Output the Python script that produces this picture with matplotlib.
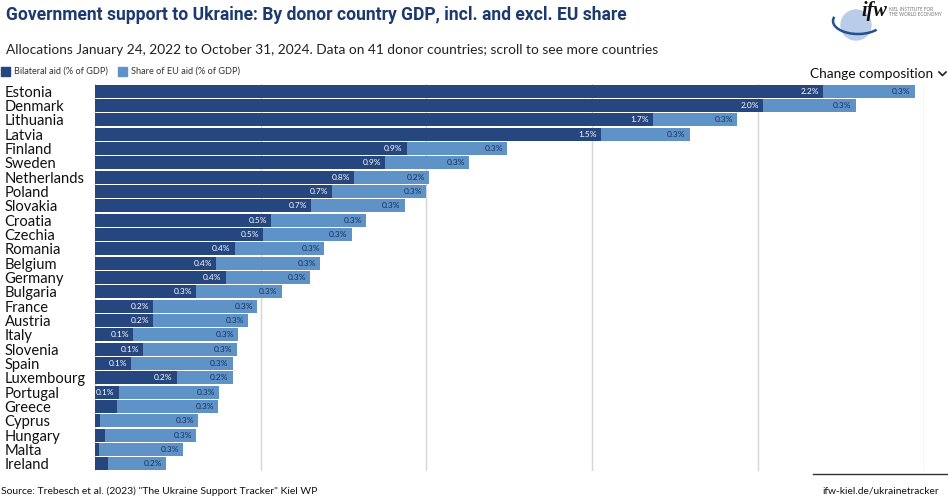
import matplotlib
matplotlib.use("Agg")
import matplotlib.pyplot as plt
from matplotlib.patches import Rectangle, Ellipse, Arc

# colours
DARK = '#26467f'
LIGHT = '#5f93c8'
TITLE = '#1c3a6e'

countries = ['Estonia', 'Denmark', 'Lithuania', 'Latvia', 'Finland', 'Sweden', 'Netherlands',
             'Poland', 'Slovakia', 'Croatia', 'Czechia', 'Romania', 'Belgium', 'Germany',
             'Bulgaria', 'France', 'Austria', 'Italy', 'Slovenia', 'Spain', 'Luxembourg',
             'Portugal', 'Greece', 'Cyprus', 'Hungary', 'Malta', 'Ireland']
bilateral = [2.197, 2.016, 1.684, 1.527, 0.941, 0.875, 0.782, 0.715, 0.652, 0.531, 0.507, 0.422,
             0.365, 0.395, 0.305, 0.175, 0.175, 0.115, 0.145, 0.109, 0.247, 0.072, 0.066,
             0.015, 0.03, 0.012, 0.039]
eu_share = [0.277, 0.280, 0.253, 0.268, 0.302, 0.254, 0.226, 0.284, 0.283, 0.287, 0.268, 0.269,
            0.314, 0.254, 0.259, 0.314, 0.287, 0.317, 0.283, 0.307, 0.169, 0.302, 0.305,
            0.296, 0.275, 0.254, 0.175]
bilateral_labels = ['2.2%', '2.0%', '1.7%', '1.5%', '0.9%', '0.9%', '0.8%', '0.7%', '0.7%', '0.5%',
                    '0.5%', '0.4%', '0.4%', '0.4%', '0.3%', '0.2%', '0.2%', '0.1%', '0.1%', '0.1%',
                    '0.2%', '0.1%', '', '', '', '', '']
eu_labels = ['0.3%'] * 6 + ['0.2%'] + ['0.3%'] * 13 + ['0.2%'] + ['0.3%'] * 5 + ['0.2%']
grid_ticks = [0, 0.5, 1.0, 1.5, 2.0, 2.5]

W, H = 948, 500
plt.rcParams['font.family'] = ['Lato', 'DejaVu Sans']
fig = plt.figure(figsize=(W / 100, H / 100), dpi=100)

# overlay in pixel coords for header, legend, logo and footer
deco = fig.add_axes([0, 0, 1, 1])
deco.set_xlim(0, W)
deco.set_ylim(H, 0)
deco.axis('off')

# axes box in pixels: x=0 at 95, x=2.5 at 923.5
ax = fig.add_axes([95 / W, 1 - 471 / H, (923.5 - 95) / W, (471 - 84) / H])
ax.set_xlim(0, 2.5)
ax.set_ylim(len(countries) - 0.5, -0.5)
for g in grid_ticks:
    ax.axvline(g, color='#d6d6d6', lw=1, zorder=0)
y = range(len(countries))
ax.barh(y, bilateral, height=0.89, color=DARK, zorder=2)
ax.barh(y, eu_share, left=bilateral, height=0.89, color=LIGHT, zorder=2)
for i in y:
    ax.annotate(bilateral_labels[i], (bilateral[i], i), xytext=(-3, 0), textcoords='offset points',
                ha='right', va='center', fontsize=6.0, color='white', zorder=3)
    ax.annotate(eu_labels[i], (bilateral[i] + eu_share[i], i), xytext=(-3, 0), textcoords='offset points',
                ha='right', va='center', fontsize=6.0, color='#16305c', zorder=3)
ax.set_yticks(list(y))
ax.set_yticklabels(countries, fontsize=10.6, color='#111111', ha='left')
ax.tick_params(axis='y', length=0, pad=65)
ax.set_xticks([])
for s in ax.spines.values():
    s.set_visible(False)

deco.text(6, 15, 'Government support to Ukraine: By donor country GDP, incl. and excl. EU share',
          fontsize=12.65, fontweight='bold', color=TITLE, va='center', family='Roboto')
deco.text(6, 50, 'Allocations January 24, 2022 to October 31, 2024. Data on 41 donor countries; scroll to see more countries',
          fontsize=9.9, color='#222222', va='center')

# legend
deco.add_patch(Rectangle((1, 67), 9, 9, color=DARK))
deco.text(14, 71.5, 'Bilateral aid (% of GDP)', fontsize=6.55, color='#333333', va='center')
deco.add_patch(Rectangle((118, 67), 9, 9, color=LIGHT))
deco.text(131, 71.5, 'Share of EU aid (% of GDP)', fontsize=6.55, color='#333333', va='center')

deco.text(810, 74, 'Change composition', fontsize=9.8, color='#111111', va='center')
deco.plot([939, 942.5, 946], [72, 75.5, 72], color='#222222', lw=1.2)

# logo
deco.add_patch(Ellipse((856, 25), 30, 30, color='#b9cde8'))
deco.add_patch(Arc((858, 21), 50, 26, theta1=25, theta2=190, ec='#24508f', lw=1.8))
deco.text(861, 11, 'ifw', fontsize=14.5, fontweight='bold', style='italic', color='#111111',
          family='Liberation Serif', va='center')
deco.text(889, 9.5, 'KIEL INSTITUTE FOR', fontsize=3.4, color='#777777', va='center')
deco.text(889, 14.5, 'THE WORLD ECONOMY', fontsize=3.4, color='#777777', va='center')

# footer
deco.text(1, 491, 'Source: Trebesch et al. (2023) "The Ukraine Support Tracker" Kiel WP',
          fontsize=7.45, color='#111111', va='center')
deco.plot([813, 948], [474, 474], color='#333333', lw=1)
deco.text(822, 491, 'ifw-kiel.de/ukrainetracker', fontsize=7.4, color='#111111', va='center')

fig.savefig('out.png', dpi=100)
